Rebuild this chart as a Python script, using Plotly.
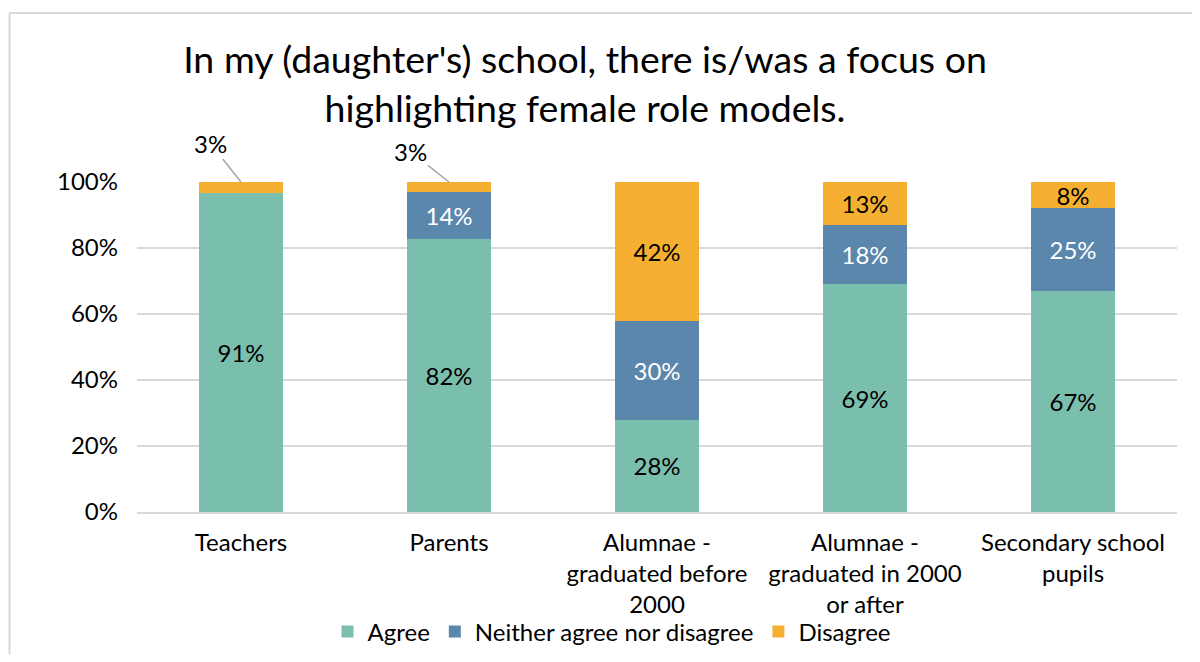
import plotly.graph_objects as go

categories = ["Teachers", "Parents", "Alumnae -<br>graduated before<br>2000",
              "Alumnae -<br>graduated in 2000<br>or after", "Secondary school<br>pupils"]
agree = [91, 82, 28, 69, 67]
neither = [0, 14, 30, 18, 25]
disagree = [3, 3, 42, 13, 8]
series_names = ["Agree", "Neither agree nor disagree", "Disagree"]
colors = ["#7ABFAE", "#5B87AD", "#F5B031"]
text_colors = ["#000000", "#FFFFFF", "#000000"]
tick_vals = [0, 20, 40, 60, 80, 100]
tick_text = ["0%", "20%", "40%", "60%", "80%", "100%"]

FONT = "Lato"
FS = 24
W, H = 1184, 646
L, R, T, B = 129, 15, 174, 142
PW, PH = W - L - R, H - T - B

def labels(vals):
    return ["" if v < 5 else f"{v}%" for v in vals]

fig = go.Figure()
for name, vals, col, tc in zip(series_names, [agree, neither, disagree], colors, text_colors):
    fig.add_trace(go.Bar(
        x=categories, y=vals, name=name, marker=dict(color=col, line=dict(width=0)),
        text=labels(vals), textposition="inside", insidetextanchor="middle",
        textfont=dict(family=FONT, size=FS, color=tc), constraintext="none",
        hoverinfo="skip",
    ))

# outside labels for small disagree values
offsets = {0: (-31, -39), 1: (-39, -31)}
for i, (ax, ay) in offsets.items():
    fig.add_annotation(x=categories[i], y=100, xref="x", yref="y",
                       text=f"{disagree[i]}%", showarrow=True, arrowhead=0,
                       arrowwidth=1.5, arrowcolor="#A6A6A6", ax=ax, ay=ay,
                       standoff=0, font=dict(family=FONT, size=FS, color="#000000"))

fig.update_layout(
    barmode="stack", barnorm="percent", bargap=0.6,
    width=W, height=H,
    margin=dict(l=L, r=R, t=T, b=B, autoexpand=False),
    paper_bgcolor="white", plot_bgcolor="white",
    font=dict(family=FONT, size=FS, color="#000000"),
    uniformtext=dict(minsize=FS, mode="show"),
    title=dict(text="In my (daughter's) school, there is/was a focus on<br>highlighting female role models.",
               x=577 / W, xanchor="center", xref="container",
               y=1 - 65 / H, yanchor="top", yref="container",
               font=dict(family=FONT, size=37.5, color="#000000")),
    legend=dict(orientation="h", x=(604 - L) / PW, xanchor="center",
                y=1 - 624 / H, yanchor="middle", yref="container",
                bgcolor="rgba(0,0,0,0)",
                font=dict(family=FONT, size=FS), traceorder="normal",
                itemwidth=30, tracegroupgap=0),
    showlegend=True,
)
fig.update_yaxes(range=[0, 100], tickvals=tick_vals, ticktext=tick_text,
                 showgrid=True, gridcolor="#D9D9D9", gridwidth=1.5, zeroline=False,
                 showline=False, ticks="", ticklabelstandoff=18,
                 tickfont=dict(family=FONT, size=FS))
fig.update_xaxes(showline=True, linecolor="#D9D9D9", linewidth=1.5, ticks="",
                 ticklabelstandoff=8, tickfont=dict(family=FONT, size=FS))

# chart-area border (only left and top edges are visible in the reference)
top_y = (T + PH - 5) / PH
left_x = (1.5 - L) / PW
fig.add_shape(type="line", xref="paper", yref="paper",
              x0=left_x, x1=(W + 20 - L) / PW, y0=top_y, y1=top_y,
              line=dict(color="#D9D9D9", width=2), layer="below")
fig.add_shape(type="line", xref="paper", yref="paper",
              x0=left_x, x1=left_x, y0=-(B + 20) / PH, y1=top_y,
              line=dict(color="#D9D9D9", width=2), layer="below")

fig.write_html("out.html")
